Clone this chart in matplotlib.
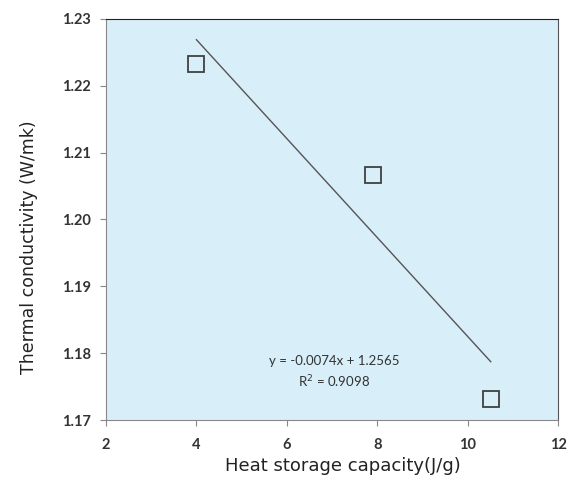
import numpy as np
import matplotlib
matplotlib.use('Agg')
import matplotlib.pyplot as plt

# data
heat_capacity = [4.00, 7.90, 10.51]
conductivity = [1.2233, 1.2067, 1.1731]
slope = -0.0074
intercept = 1.2565
r2 = 0.9098

x_ticks = [2, 4, 6, 8, 10, 12]
y_ticks = [1.17, 1.18, 1.19, 1.20, 1.21, 1.22, 1.23]

fig = plt.figure(figsize=(5.73, 4.78), dpi=100)
ax = fig.add_axes([0.185, 0.1213, 0.789, 0.839])
ax.set_facecolor('#d8eef9')

ax.plot(heat_capacity, conductivity, linestyle='none', marker='s', markersize=12,
        markerfacecolor='none', markeredgecolor='#404040', markeredgewidth=1.3)

# linear trendline over the data range
xs = np.array([min(heat_capacity), max(heat_capacity)])
ax.plot(xs, slope * xs + intercept, color='#555555', linewidth=1.0)

ax.text(7.05, 1.1789, 'y = -0.0074x + 1.2565', ha='center', va='center',
        fontsize=9.5, color='#333333', family='Lato')
ax.text(7.05, 1.1757, 'R$^2$ = %.4f' % r2, ha='center', va='center',
        fontsize=9.5, color='#333333', family='Lato')

ax.set_xlim(2, 12)
ax.set_ylim(1.17, 1.23)
ax.set_xticks(x_ticks)
ax.set_yticks(y_ticks)
ax.set_yticklabels(['%.2f' % v for v in y_ticks])
ax.tick_params(direction='out', length=4, color='#888888', labelsize=10.5,
               labelcolor='#333333', pad=7)
ax.tick_params(axis='x', pad=9)
for lab in ax.get_xticklabels() + ax.get_yticklabels():
    lab.set_family('Lato')
    lab.set_fontweight('bold')

ax.spines['top'].set_color('#222222')
ax.spines['right'].set_color('#555555')
ax.spines['left'].set_color('#888888')
ax.spines['bottom'].set_color('#888888')

ax.set_xlabel('Heat storage capacity(J/g)', fontsize=13, color='#222222',
              family='DejaVu Sans', ha='center', va='center')
ax.set_ylabel('Thermal conductivity (W/mk)', fontsize=12.5, color='#222222',
              family='DejaVu Sans', ha='center', va='center')
ax.xaxis.set_label_coords(0.524, -0.115)
ax.yaxis.set_label_coords(-0.170, 0.431)

plt.savefig('out.png', dpi=100)
